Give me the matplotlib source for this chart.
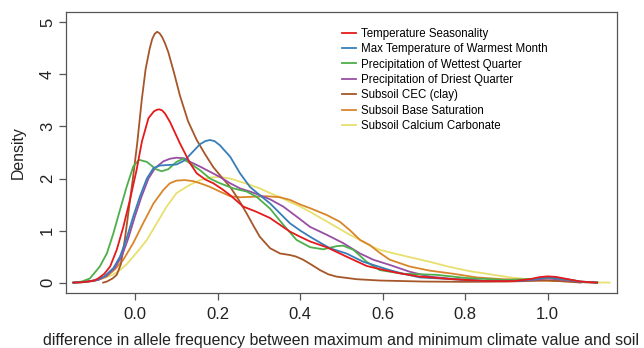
import numpy as np
import matplotlib
matplotlib.use("Agg")
import matplotlib.pyplot as plt

plt.rcParams['font.family'] = ['Liberation Sans', 'DejaVu Sans']

# Densidades (x, densidad)
temp_seas_x = [-0.15, -0.125, -0.1, -0.09, -0.075, -0.061, -0.045, -0.029, -0.013, 0.003, 0.016, 0.032, 0.045,
               0.052, 0.058, 0.065, 0.072, 0.084, 0.108, 0.133, 0.149, 0.17, 0.189, 0.21, 0.23, 0.262, 0.294,
               0.327, 0.351, 0.375, 0.4, 0.424, 0.464, 0.512, 0.561, 0.593, 0.64, 0.69, 0.771, 0.85, 0.92,
               0.96, 0.98, 1.0, 1.02, 1.04, 1.08, 1.12]
temp_seas_y = [0.0, 0.01, 0.04, 0.08, 0.17, 0.31, 0.63, 1.07, 1.59, 2.16, 2.71, 3.16, 3.29,
               3.32, 3.33, 3.31, 3.25, 3.09, 2.68, 2.29, 2.1, 1.98, 1.91, 1.8, 1.68, 1.46, 1.36,
               1.24, 1.11, 0.98, 0.88, 0.79, 0.68, 0.5, 0.32, 0.26, 0.18, 0.115, 0.065, 0.03, 0.03,
               0.07, 0.105, 0.12, 0.11, 0.08, 0.02, 0.0]

max_temp_x = [-0.15, -0.125, -0.094, -0.075, -0.053, -0.037, -0.021, -0.005, 0.011, 0.028, 0.044, 0.06, 0.08,
              0.1, 0.12, 0.133, 0.157, 0.17, 0.181, 0.192, 0.205, 0.23, 0.254, 0.278, 0.302, 0.327, 0.351,
              0.375, 0.4, 0.424, 0.45, 0.472, 0.512, 0.553, 0.593, 0.617, 0.65, 0.69, 0.771, 0.85, 0.92,
              0.96, 1.0, 1.04, 1.08, 1.12]
max_temp_y = [0.0, 0.01, 0.05, 0.12, 0.28, 0.5, 0.85, 1.27, 1.65, 2.0, 2.2, 2.25, 2.26,
              2.27, 2.35, 2.46, 2.66, 2.72, 2.74, 2.72, 2.64, 2.42, 2.1, 1.84, 1.68, 1.52, 1.33,
              1.14, 1.0, 0.88, 0.76, 0.66, 0.56, 0.4, 0.3, 0.24, 0.17, 0.1, 0.065, 0.03, 0.03,
              0.06, 0.1, 0.07, 0.02, 0.0]

prec_wet_x = [-0.15, -0.13, -0.11, -0.086, -0.069, -0.053, -0.037, -0.021, -0.005, 0.009, 0.028, 0.05, 0.064,
              0.08, 0.1, 0.116, 0.133, 0.157, 0.181, 0.205, 0.238, 0.27, 0.294, 0.327, 0.359, 0.391, 0.424,
              0.456, 0.488, 0.504, 0.529, 0.561, 0.593, 0.617, 0.65, 0.73, 0.8, 0.9, 0.96, 1.0, 1.04, 1.08,
              1.12]
prec_wet_y = [0.0, 0.02, 0.08, 0.31, 0.56, 0.95, 1.4, 1.84, 2.23, 2.36, 2.32, 2.18, 2.14,
              2.18, 2.32, 2.38, 2.29, 2.16, 2.0, 1.91, 1.81, 1.75, 1.65, 1.42, 1.11, 0.82, 0.68,
              0.64, 0.7, 0.71, 0.63, 0.4, 0.24, 0.21, 0.17, 0.15, 0.09, 0.05, 0.07, 0.1, 0.07, 0.02,
              0.0]

prec_dry_x = [-0.15, -0.125, -0.09, -0.07, -0.05, -0.033, -0.017, -0.001, 0.015, 0.032, 0.048, 0.068, 0.084,
              0.1, 0.118, 0.133, 0.157, 0.181, 0.205, 0.23, 0.254, 0.278, 0.302, 0.327, 0.359, 0.391, 0.424,
              0.464, 0.504, 0.545, 0.577, 0.617, 0.665, 0.714, 0.771, 0.85, 0.92, 0.96, 1.0, 1.04, 1.08, 1.12]
prec_dry_y = [0.0, 0.01, 0.05, 0.13, 0.28, 0.5, 0.85, 1.27, 1.65, 2.0, 2.2, 2.33, 2.38,
              2.4, 2.39, 2.32, 2.23, 2.13, 2.03, 1.91, 1.81, 1.75, 1.68, 1.6, 1.46, 1.27, 1.07,
              0.92, 0.76, 0.56, 0.44, 0.34, 0.21, 0.115, 0.07, 0.03, 0.03, 0.05, 0.08, 0.05, 0.01, 0.0]

cec_x = [-0.078, -0.069, -0.055, -0.045, -0.035, -0.025, -0.015, -0.005, 0.005, 0.0155, 0.025, 0.035, 0.041,
         0.047, 0.053, 0.059, 0.065, 0.072, 0.08, 0.095, 0.108, 0.128, 0.149, 0.169, 0.189, 0.21, 0.23,
         0.25, 0.27, 0.286, 0.302, 0.327, 0.351, 0.375, 0.39, 0.407, 0.428, 0.448, 0.468, 0.488, 0.537,
         0.593, 0.7, 0.8, 0.9, 1.0, 1.05, 1.08]
cec_y = [0.0, 0.02, 0.08, 0.15, 0.35, 0.85, 1.45, 2.05, 2.7, 3.5, 4.1, 4.5, 4.68,
         4.78, 4.82, 4.79, 4.72, 4.6, 4.43, 4.0, 3.6, 3.1, 2.74, 2.47, 2.22, 2.02, 1.84,
         1.6, 1.33, 1.1, 0.88, 0.66, 0.56, 0.53, 0.5, 0.44, 0.34, 0.24, 0.16, 0.115, 0.065,
         0.04, 0.02, 0.015, 0.02, 0.04, 0.02, 0.0]

base_sat_x = [-0.15, -0.12, -0.1, -0.085, -0.069, -0.05, -0.029, -0.005, 0.019, 0.044, 0.068, 0.084, 0.1,
              0.12, 0.14, 0.157, 0.181, 0.205, 0.23, 0.254, 0.286, 0.319, 0.351, 0.375, 0.4, 0.424, 0.464,
              0.496, 0.52, 0.545, 0.569, 0.593, 0.617, 0.665, 0.714, 0.771, 0.828, 0.892, 0.973, 1.03, 1.08,
              1.12]
base_sat_y = [0.0, 0.01, 0.03, 0.07, 0.12, 0.25, 0.44, 0.76, 1.14, 1.52, 1.78, 1.91, 1.96,
              1.97, 1.95, 1.91, 1.84, 1.75, 1.66, 1.64, 1.65, 1.66, 1.64, 1.59, 1.5, 1.43, 1.3,
              1.17, 1.01, 0.82, 0.72, 0.57, 0.44, 0.31, 0.23, 0.17, 0.1, 0.065, 0.05, 0.03, 0.01,
              0.0]

calc_x = [-0.15, -0.12, -0.1, -0.078, -0.055, -0.037, -0.02, -0.005, 0.012, 0.028, 0.052, 0.076, 0.1,
          0.12, 0.133, 0.157, 0.181, 0.205, 0.23, 0.254, 0.278, 0.302, 0.327, 0.351, 0.375, 0.4, 0.424,
          0.448, 0.472, 0.496, 0.52, 0.545, 0.569, 0.593, 0.617, 0.665, 0.714, 0.763, 0.811, 0.86, 0.908,
          0.973, 1.054, 1.1, 1.15]
calc_y = [0.0, 0.02, 0.04, 0.08, 0.15, 0.24, 0.36, 0.5, 0.66, 0.82, 1.14, 1.46, 1.72,
          1.82, 1.88, 1.97, 2.02, 2.03, 2.0, 1.94, 1.88, 1.81, 1.72, 1.64, 1.55, 1.46, 1.36,
          1.25, 1.14, 1.03, 0.92, 0.82, 0.71, 0.63, 0.58, 0.49, 0.4, 0.3, 0.22, 0.16, 0.1,
          0.05, 0.02, 0.005, 0.0]

labels = ['Temperature Seasonality', 'Max Temperature of Warmest Month',
          'Precipitation of Wettest Quarter', 'Precipitation of Driest Quarter',
          'Subsoil CEC (clay)', 'Subsoil Base Saturation', 'Subsoil Calcium Carbonate']
colors = ['#E41A1C', '#377EB8', '#4DAF4A', '#984EA3', '#A65628', '#D9862A', '#E8E06E']
series = [(temp_seas_x, temp_seas_y), (max_temp_x, max_temp_y), (prec_wet_x, prec_wet_y),
          (prec_dry_x, prec_dry_y), (cec_x, cec_y), (base_sat_x, base_sat_y), (calc_x, calc_y)]

fig = plt.figure(figsize=(6.44, 3.48), dpi=100)
ax = fig.add_axes([0.1025, 0.158, 0.8555, 0.8075])

# Dibujar en orden inverso para que el rojo quede encima
for (xs, ys), c, lab in reversed(list(zip(series, colors, labels))):
    ax.plot(xs, ys, color=c, lw=1.3, label=lab, solid_joinstyle='round')

ax.set_xlim(-0.168, 1.168)
ax.set_ylim(-0.2, 5.2)
ax.set_xticks([0.0, 0.2, 0.4, 0.6, 0.8, 1.0])
ax.set_xticklabels(['0.0', '0.2', '0.4', '0.6', '0.8', '1.0'])
ax.set_yticks([0, 1, 2, 3, 4, 5])
ax.set_yticklabels(['0', '1', '2', '3', '4', '5'], rotation=90, va='center')

for s in ax.spines.values():
    s.set_color('#555555')
    s.set_linewidth(0.9)
ax.tick_params(direction='out', length=5, width=0.9, color='#555555', labelsize=12, labelcolor='#222222')
ax.tick_params(axis='x', pad=5)
ax.tick_params(axis='y', pad=3)

ax.set_xlabel('difference in allele frequency between maximum and minimum climate value and soil',
              fontsize=11.4, color='#222222', labelpad=8)
ax.set_ylabel('Density', fontsize=11.4, color='#222222', labelpad=10)

handles, labs = ax.get_legend_handles_labels()
ax.legend(handles[::-1], labs[::-1], loc='upper left', bbox_to_anchor=(0.49, 0.965), frameon=False,
          fontsize=8.3, handlelength=1.2, handletextpad=0.45, labelspacing=0.3, borderpad=0)

fig.savefig('out.png', dpi=100)
